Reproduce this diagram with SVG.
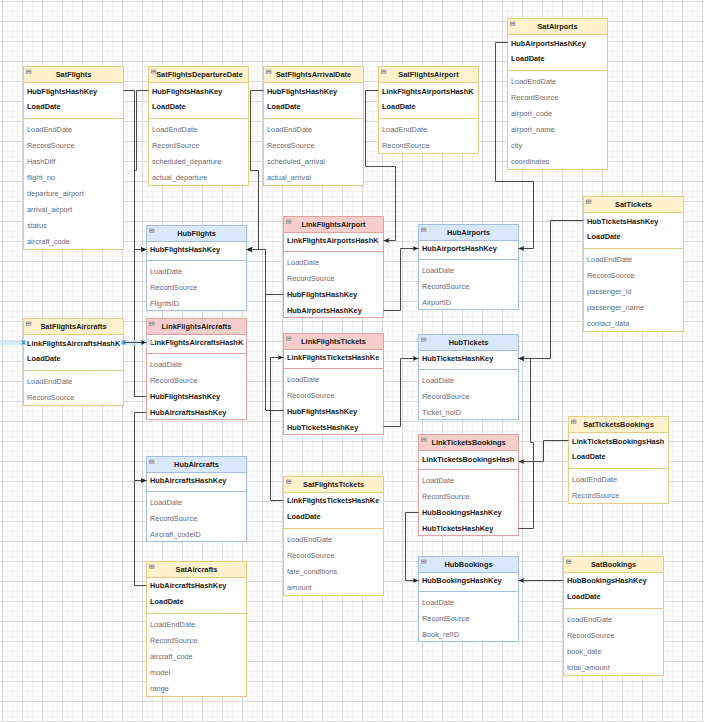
<svg xmlns="http://www.w3.org/2000/svg" width="704" height="722" viewBox="0 0 704 722">
<style>
text{font-family:"Liberation Sans",Arial,sans-serif;font-size:7.4px}
.t{font-weight:bold;fill:#1a1a1a;text-anchor:middle}
.k{font-weight:bold;fill:#1a1a1a}
.f{fill:#6b6b78}
.sy{fill:#fff;stroke:#e6cd86}.hy{fill:#fff2cc;stroke:#e6cd86}.ly{stroke:#e6cd86}
.sb{fill:#fff;stroke:#a3bde3}.hb{fill:#dae8fc;stroke:#a3bde3}.lb{stroke:#a3bde3}
.sr{fill:#fff;stroke:#e0a3a1}.hr{fill:#f8cecc;stroke:#e0a3a1}.lr{stroke:#e0a3a1}
.ic{fill:#d9d9d9;stroke:#7a7a7a;stroke-width:0.6}
.im{stroke:#555;stroke-width:0.7}
.e{fill:none;stroke:#4a4a4a;stroke-width:1;marker-end:url(#a)}
.e0{fill:none;stroke:#4a4a4a;stroke-width:1}
</style>
<defs>
<pattern id="gm" x="2" y="1" width="5" height="5" patternUnits="userSpaceOnUse"><path d="M0.5 0V5M0 0.5H5" stroke="#f3f3f3" stroke-width="1" fill="none"/></pattern>
<pattern id="gM" x="2" y="1" width="20" height="20" patternUnits="userSpaceOnUse"><path d="M0.5 0V20M0 0.5H20" stroke="#d9d9d9" stroke-width="1" fill="none"/></pattern>
<marker id="a" markerUnits="userSpaceOnUse" markerWidth="7" markerHeight="6" refX="6" refY="2.5" orient="auto"><path d="M0,0 L6,2.5 L0,5 L1.5,2.5 z" fill="#222"/></marker>
</defs>
<rect width="704" height="722" fill="#fff"/>
<rect width="704" height="722" fill="url(#gm)"/>
<rect width="704" height="722" fill="url(#gM)"/>

<g id="SatFlights" transform="translate(23.5,66.5)">
<rect class="sy" width="100" height="183"/><rect class="hy" width="100" height="16"/><line class="ly" x1="0" y1="52" x2="100" y2="52"/>
<rect class="ic" x="3" y="3.5" width="4.5" height="3.2"/><line class="im" x1="3.8" y1="5.1" x2="6.7" y2="5.1"/>
<text class="t" x="50" y="10.7">SatFlights</text>
<text class="k" x="3.5" y="27.5">HubFlightsHashKey</text><text class="k" x="3.5" y="42.9">LoadDate</text>
<text class="f" x="3.5" y="65.3">LoadEndDate</text><text class="f" x="3.5" y="81.3">RecordSource</text><text class="f" x="3.5" y="97.3">HashDiff</text><text class="f" x="3.5" y="113.3">flight_no</text><text class="f" x="3.5" y="129.3">departure_airport</text><text class="f" x="3.5" y="145.3">arrival_airport</text><text class="f" x="3.5" y="161.3">status</text><text class="f" x="3.5" y="177.3">aircraft_code</text>
</g>

<g id="SatFlightsDepartureDate" transform="translate(148.5,66.5)">
<rect class="sy" width="100" height="119"/><rect class="hy" width="100" height="16"/><line class="ly" x1="0" y1="52" x2="100" y2="52"/>
<rect class="ic" x="3" y="3.5" width="4.5" height="3.2"/><line class="im" x1="3.8" y1="5.1" x2="6.7" y2="5.1"/>
<text class="t" x="51" y="10.7">SatFlightsDepartureDate</text>
<text class="k" x="3.5" y="27.5">HubFlightsHashKey</text><text class="k" x="3.5" y="42.9">LoadDate</text>
<text class="f" x="3.5" y="65.3">LoadEndDate</text><text class="f" x="3.5" y="81.3">RecordSource</text><text class="f" x="3.5" y="97.3">scheduled_departure</text><text class="f" x="3.5" y="113.3">actual_departure</text>
</g>

<g id="SatFlightsArrivalDate" transform="translate(263.5,66.5)">
<rect class="sy" width="100" height="119"/><rect class="hy" width="100" height="16"/><line class="ly" x1="0" y1="52" x2="100" y2="52"/>
<rect class="ic" x="3" y="3.5" width="4.5" height="3.2"/><line class="im" x1="3.8" y1="5.1" x2="6.7" y2="5.1"/>
<text class="t" x="50" y="10.7">SatFlightsArrivalDate</text>
<text class="k" x="3.5" y="27.5">HubFlightsHashKey</text><text class="k" x="3.5" y="42.9">LoadDate</text>
<text class="f" x="3.5" y="65.3">LoadEndDate</text><text class="f" x="3.5" y="81.3">RecordSource</text><text class="f" x="3.5" y="97.3">scheduled_arrival</text><text class="f" x="3.5" y="113.3">actual_arrival</text>
</g>

<g id="SatFlightsAirport" transform="translate(378.5,66.5)">
<rect class="sy" width="100" height="87"/><rect class="hy" width="100" height="16"/><line class="ly" x1="0" y1="52" x2="100" y2="52"/>
<rect class="ic" x="3" y="3.5" width="4.5" height="3.2"/><line class="im" x1="3.8" y1="5.1" x2="6.7" y2="5.1"/>
<text class="t" x="50" y="10.7">SatFlightsAirport</text>
<text class="k" x="3.5" y="27.5">LinkFlightsAirportsHashK</text><text class="k" x="3.5" y="42.9">LoadDate</text>
<text class="f" x="3.5" y="65.3">LoadEndDate</text><text class="f" x="3.5" y="81.3">RecordSource</text>
</g>

<g id="SatAirports" transform="translate(507.5,18.5)">
<rect class="sy" width="100" height="151"/><rect class="hy" width="100" height="16"/><line class="ly" x1="0" y1="52" x2="100" y2="52"/>
<rect class="ic" x="3" y="3.5" width="4.5" height="3.2"/><line class="im" x1="3.8" y1="5.1" x2="6.7" y2="5.1"/>
<text class="t" x="50" y="10.7">SatAirports</text>
<text class="k" x="3.5" y="27.5">HubAirportsHashKey</text><text class="k" x="3.5" y="42.9">LoadDate</text>
<text class="f" x="3.5" y="65.3">LoadEndDate</text><text class="f" x="3.5" y="81.3">RecordSource</text><text class="f" x="3.5" y="97.3">airport_code</text><text class="f" x="3.5" y="113.3">airport_name</text><text class="f" x="3.5" y="129.3">city</text><text class="f" x="3.5" y="145.3">coordinates</text>
</g>

<g id="SatTickets" transform="translate(583.5,196.5)">
<rect class="sy" width="100" height="135"/><rect class="hy" width="100" height="16"/><line class="ly" x1="0" y1="52" x2="100" y2="52"/>
<rect class="ic" x="3" y="3.5" width="4.5" height="3.2"/><line class="im" x1="3.8" y1="5.1" x2="6.7" y2="5.1"/>
<text class="t" x="50" y="10.7">SatTickets</text>
<text class="k" x="3.5" y="27.5">HubTicketsHashKey</text><text class="k" x="3.5" y="42.9">LoadDate</text>
<text class="f" x="3.5" y="65.3">LoadEndDate</text><text class="f" x="3.5" y="81.3">RecordSource</text><text class="f" x="3.5" y="97.3">passenger_id</text><text class="f" x="3.5" y="113.3">passenger_name</text><text class="f" x="3.5" y="129.3">contact_data</text>
</g>

<g id="HubFlights" transform="translate(146.5,225.5)">
<rect class="sb" width="100" height="85"/><rect class="hb" width="100" height="16"/><line class="lb" x1="0" y1="35" x2="100" y2="35"/>
<rect class="ic" x="3" y="3.5" width="4.5" height="3.2"/><line class="im" x1="3.8" y1="5.1" x2="6.7" y2="5.1"/>
<text class="t" x="50" y="10.7">HubFlights</text>
<text class="k" x="3.5" y="26.9">HubFlightsHashKey</text>
<text class="f" x="3.5" y="48.2">LoadDate</text><text class="f" x="3.5" y="64.2">RecordSource</text><text class="f" x="3.5" y="80.2">FlightsID</text>
</g>

<g id="LinkFlightsAircrafts" transform="translate(146.5,318.5)">
<rect class="sr" width="100" height="101"/><rect class="hr" width="100" height="16"/><line class="lr" x1="0" y1="35" x2="100" y2="35"/>
<rect class="ic" x="3" y="3.5" width="4.5" height="3.2"/><line class="im" x1="3.8" y1="5.1" x2="6.7" y2="5.1"/>
<text class="t" x="50" y="10.7">LinkFlightsAircrafts</text>
<text class="k" x="3.5" y="26.9">LinkFlightsAircraftsHashK</text>
<text class="f" x="3.5" y="48.2">LoadDate</text><text class="f" x="3.5" y="64.2">RecordSource</text><text class="k" x="3.5" y="80.2">HubFlightsHashKey</text><text class="k" x="3.5" y="96.2">HubAircraftsHashKey</text>
</g>

<g id="SatFlightsAircrafts" transform="translate(23.5,318.5)">
<rect class="sy" width="100" height="87"/><rect class="hy" width="100" height="16"/><line class="ly" x1="0" y1="52" x2="100" y2="52"/>
<rect class="ic" x="3" y="3.5" width="4.5" height="3.2"/><line class="im" x1="3.8" y1="5.1" x2="6.7" y2="5.1"/>
<text class="t" x="50" y="10.7">SatFlightsAircrafts</text>
<text class="k" x="3.5" y="27.5">LinkFlightsAircraftsHashK</text><text class="k" x="3.5" y="42.9">LoadDate</text>
<text class="f" x="3.5" y="65.3">LoadEndDate</text><text class="f" x="3.5" y="81.3">RecordSource</text>
</g>

<g id="LinkFlightsAirport" transform="translate(283.5,216.5)">
<rect class="sr" width="100" height="101"/><rect class="hr" width="100" height="16"/><line class="lr" x1="0" y1="35" x2="100" y2="35"/>
<rect class="ic" x="3" y="3.5" width="4.5" height="3.2"/><line class="im" x1="3.8" y1="5.1" x2="6.7" y2="5.1"/>
<text class="t" x="50" y="10.7">LinkFlightsAirport</text>
<text class="k" x="3.5" y="26.9">LinkFlightsAirportsHashK</text>
<text class="f" x="3.5" y="48.2">LoadDate</text><text class="f" x="3.5" y="64.2">RecordSource</text><text class="k" x="3.5" y="80.2">HubFlightsHashKey</text><text class="k" x="3.5" y="96.2">HubAirportsHashKey</text>
</g>

<g id="LinkFlightsTickets" transform="translate(283.5,333.5)">
<rect class="sr" width="100" height="101"/><rect class="hr" width="100" height="16"/><line class="lr" x1="0" y1="35" x2="100" y2="35"/>
<rect class="ic" x="3" y="3.5" width="4.5" height="3.2"/><line class="im" x1="3.8" y1="5.1" x2="6.7" y2="5.1"/>
<text class="t" x="50" y="10.7">LinkFlightsTickets</text>
<text class="k" x="3.5" y="26.9">LinkFlightsTicketsHashKe</text>
<text class="f" x="3.5" y="48.2">LoadDate</text><text class="f" x="3.5" y="64.2">RecordSource</text><text class="k" x="3.5" y="80.2">HubFlightsHashKey</text><text class="k" x="3.5" y="96.2">HubTicketsHashKey</text>
</g>

<g id="HubAirports" transform="translate(418.5,224.5)">
<rect class="sb" width="100" height="85"/><rect class="hb" width="100" height="16"/><line class="lb" x1="0" y1="35" x2="100" y2="35"/>
<rect class="ic" x="3" y="3.5" width="4.5" height="3.2"/><line class="im" x1="3.8" y1="5.1" x2="6.7" y2="5.1"/>
<text class="t" x="50" y="10.7">HubAirports</text>
<text class="k" x="3.5" y="26.9">HubAirportsHashKey</text>
<text class="f" x="3.5" y="48.2">LoadDate</text><text class="f" x="3.5" y="64.2">RecordSource</text><text class="f" x="3.5" y="80.2">AirportID</text>
</g>

<g id="HubTickets" transform="translate(418.5,334.5)">
<rect class="sb" width="100" height="85"/><rect class="hb" width="100" height="16"/><line class="lb" x1="0" y1="35" x2="100" y2="35"/>
<rect class="ic" x="3" y="3.5" width="4.5" height="3.2"/><line class="im" x1="3.8" y1="5.1" x2="6.7" y2="5.1"/>
<text class="t" x="50" y="10.7">HubTickets</text>
<text class="k" x="3.5" y="26.9">HubTicketsHashKey</text>
<text class="f" x="3.5" y="48.2">LoadDate</text><text class="f" x="3.5" y="64.2">RecordSource</text><text class="f" x="3.5" y="80.2">Ticket_noID</text>
</g>

<g id="LinkTicketsBookings" transform="translate(418.5,434.5)">
<rect class="sr" width="100" height="101"/><rect class="hr" width="100" height="16"/><line class="lr" x1="0" y1="35" x2="100" y2="35"/>
<rect class="ic" x="3" y="3.5" width="4.5" height="3.2"/><line class="im" x1="3.8" y1="5.1" x2="6.7" y2="5.1"/>
<text class="t" x="50" y="10.7">LinkTicketsBookings</text>
<text class="k" x="3.5" y="27.5">LinkTicketsBookingsHash</text>
<text class="f" x="3.5" y="48.2">LoadDate</text><text class="f" x="3.5" y="64.2">RecordSource</text><text class="k" x="3.5" y="80.2">HubBookingsHashKey</text><text class="k" x="3.5" y="96.2">HubTicketsHashKey</text>
</g>

<g id="SatTicketsBookings" transform="translate(568.5,416.5)">
<rect class="sy" width="100" height="87"/><rect class="hy" width="100" height="16"/><line class="ly" x1="0" y1="52" x2="100" y2="52"/>
<rect class="ic" x="3" y="3.5" width="4.5" height="3.2"/><line class="im" x1="3.8" y1="5.1" x2="6.7" y2="5.1"/>
<text class="t" x="50" y="10.7">SatTicketsBookings</text>
<text class="k" x="3.5" y="27.2">LinkTicketsBookingsHash</text><text class="k" x="3.5" y="42.9">LoadDate</text>
<text class="f" x="3.5" y="65.3">LoadEndDate</text><text class="f" x="3.5" y="81.3">RecordSource</text>
</g>

<g id="HubBookings" transform="translate(418.5,556.5)">
<rect class="sb" width="100" height="85"/><rect class="hb" width="100" height="16"/><line class="lb" x1="0" y1="35" x2="100" y2="35"/>
<rect class="ic" x="3" y="3.5" width="4.5" height="3.2"/><line class="im" x1="3.8" y1="5.1" x2="6.7" y2="5.1"/>
<text class="t" x="50" y="10.7">HubBookings</text>
<text class="k" x="3.5" y="26.9">HubBookingsHashKey</text>
<text class="f" x="3.5" y="48.2">LoadDate</text><text class="f" x="3.5" y="64.2">RecordSource</text><text class="f" x="3.5" y="80.2">Book_refID</text>
</g>

<g id="SatBookings" transform="translate(563.5,556.5)">
<rect class="sy" width="100" height="119"/><rect class="hy" width="100" height="16"/><line class="ly" x1="0" y1="52" x2="100" y2="52"/>
<rect class="ic" x="3" y="3.5" width="4.5" height="3.2"/><line class="im" x1="3.8" y1="5.1" x2="6.7" y2="5.1"/>
<text class="t" x="50" y="10.7">SatBookings</text>
<text class="k" x="3.5" y="26.9">HubBookingsHashKey</text><text class="k" x="3.5" y="42.9">LoadDate</text>
<text class="f" x="3.5" y="65.3">LoadEndDate</text><text class="f" x="3.5" y="81.3">RecordSource</text><text class="f" x="3.5" y="97.3">book_date</text><text class="f" x="3.5" y="113.3">total_amount</text>
</g>

<g id="HubAircrafts" transform="translate(146.5,456.5)">
<rect class="sb" width="100" height="85"/><rect class="hb" width="100" height="16"/><line class="lb" x1="0" y1="35" x2="100" y2="35"/>
<rect class="ic" x="3" y="3.5" width="4.5" height="3.2"/><line class="im" x1="3.8" y1="5.1" x2="6.7" y2="5.1"/>
<text class="t" x="50" y="10.7">HubAircrafts</text>
<text class="k" x="3.5" y="26.9">HubAircraftsHashKey</text>
<text class="f" x="3.5" y="48.2">LoadDate</text><text class="f" x="3.5" y="64.2">RecordSource</text><text class="f" x="3.5" y="80.2">Aircraft_codeID</text>
</g>

<g id="SatAircrafts" transform="translate(146.5,561.5)">
<rect class="sy" width="100" height="135"/><rect class="hy" width="100" height="16"/><line class="ly" x1="0" y1="52" x2="100" y2="52"/>
<rect class="ic" x="3" y="3.5" width="4.5" height="3.2"/><line class="im" x1="3.8" y1="5.1" x2="6.7" y2="5.1"/>
<text class="t" x="50" y="10.7">SatAircrafts</text>
<text class="k" x="3.5" y="26.9">HubAircraftsHashKey</text><text class="k" x="3.5" y="42.9">LoadDate</text>
<text class="f" x="3.5" y="65.3">LoadEndDate</text><text class="f" x="3.5" y="81.3">RecordSource</text><text class="f" x="3.5" y="97.3">aircraft_code</text><text class="f" x="3.5" y="113.3">model</text><text class="f" x="3.5" y="129.3">range</text>
</g>

<g id="SatFlightsTickets" transform="translate(283.5,476.5)">
<rect class="sy" width="100" height="119"/><rect class="hy" width="100" height="16"/><line class="ly" x1="0" y1="52" x2="100" y2="52"/>
<rect class="ic" x="3" y="3.5" width="4.5" height="3.2"/><line class="im" x1="3.8" y1="5.1" x2="6.7" y2="5.1"/>
<text class="t" x="50" y="10.7">SatFlightsTickets</text>
<text class="k" x="3.5" y="26.9">LinkFlightsTicketsHashKe</text><text class="k" x="3.5" y="42.9">LoadDate</text>
<text class="f" x="3.5" y="65.3">LoadEndDate</text><text class="f" x="3.5" y="81.3">RecordSource</text><text class="f" x="3.5" y="97.3">fare_conditions</text><text class="f" x="3.5" y="113.3">amount</text>
</g>

<g id="connectors">
<path class="e" d="M123.5,90.5 H134.5 V249.5 H146.5"/>
<path class="e" d="M148.5,90.5 H136.5 V170.5 H134.5 V249.5 H146.5"/>
<path class="e" d="M146.5,396.5 H134.5 V249.5 H146.5"/>
<path class="e" d="M263.5,90.5 H250.5 V170.5 H258.5 V249.5 H246.5"/>
<path class="e" d="M283.5,294.5 H265.5 V249.5 H246.5"/>
<path class="e" d="M283.5,410.5 H265.5 V249.5 H246.5"/>
<rect x="0" y="340" width="21" height="5" fill="#cfe6f7" opacity="0.8"/>
<polygon points="124,340 146,340 146,337 154,342.5 146,348 146,345 124,345" fill="#cfe6f7" opacity="0.7"/>
<path class="e" d="M123.5,342.5 H146.5"/>
<path d="M21.5,340.5 l4,4 M21.5,344.5 l4,-4 M121.5,340.5 l4,4 M121.5,344.5 l4,-4" stroke="#1e9be0" stroke-width="1.1" fill="none"/>
<path class="e" d="M146.5,412.5 H134.5 V480.5 H146.5"/>
<path class="e" d="M146.5,585.5 H134.5 V480.5 H146.5"/>
<path class="e" d="M378.5,90.5 H365.5 V166.5 H395.5 V240.5 H383.5"/>
<path class="e" d="M383.5,310.5 H400.5 V248.5 H418.5"/>
<path class="e" d="M383.5,426.5 H400.5 V358.5 H418.5"/>
<path class="e" d="M283.5,500.5 H270.5 V357.5 H283.5"/>
<path class="e" d="M507.5,42.5 H495.5 V181.5 H533.5 V248.5 H518.5"/>
<path class="e" d="M583.5,220.5 H550.5 V358.5 H518.5"/>
<path class="e" d="M518.5,528.5 H533.5 V442.5 H530.5 V358.5 H518.5"/>
<path class="e" d="M568.5,440.5 H543.5 V461.5 H518.5"/>
<path class="e" d="M418.5,512.5 H405.5 V580.5 H418.5"/>
<path class="e" d="M563.5,580.5 H518.5"/>
</g>
</svg>
